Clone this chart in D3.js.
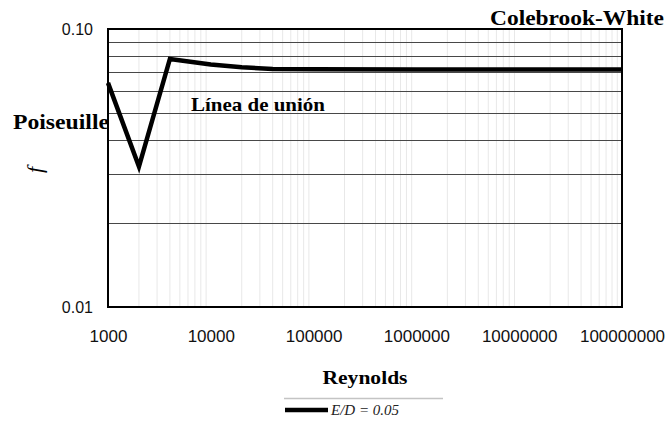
<!DOCTYPE html>
<html>
<head>
<meta charset="utf-8">
<script src="https://cdn.jsdelivr.net/npm/d3@7"></script>
<style>
  html, body { margin: 0; padding: 0; background: #fff; }
  svg { display: block; }
</style>
</head>
<body>
<svg id="chart" width="670" height="436"></svg>
<script>
// Friction factor vs Reynolds number for relative roughness E/D = 0.05
const reynolds = [1000, 2000, 4000, 10000, 20000, 40000, 100000, 1000000, 10000000, 100000000];
const friction = [0.064, 0.032, 0.078, 0.0745, 0.0728, 0.0718, 0.0716, 0.0715, 0.0715, 0.0715];
const xTicks = [1000, 10000, 100000, 1000000, 10000000, 100000000];
const yTicks = [0.01, 0.10];
const yGrid = [0.02, 0.03, 0.04, 0.05, 0.06, 0.07, 0.08, 0.09];
const seriesName = "E/D = 0.05";

const svg = d3.select("#chart");
const m = { left: 108, right: 622, top: 29, bottom: 307 };

const x = d3.scaleLog().domain([1000, 100000000]).range([m.left, m.right]);
const y = d3.scaleLog().domain([0.01, 0.1]).range([m.bottom, m.top]);

// faint vertical minor grid
const xMinor = [];
for (let e = 3; e < 8; e++) for (let k = 2; k <= 9; k++) xMinor.push(k * Math.pow(10, e));
svg.append("g").selectAll("line").data(xMinor).join("line")
  .attr("x1", d => x(d)).attr("x2", d => x(d))
  .attr("y1", m.top).attr("y2", m.bottom)
  .attr("stroke", "#e8e8e8").attr("stroke-width", 1);

// horizontal grid
svg.append("g").selectAll("line").data(yGrid).join("line")
  .attr("x1", m.left).attr("x2", m.right)
  .attr("y1", d => Math.round(y(d)) + 0.5).attr("y2", d => Math.round(y(d)) + 0.5)
  .attr("stroke", "#484848").attr("stroke-width", 1);

// plot frame
svg.append("rect")
  .attr("x", m.left).attr("y", m.top)
  .attr("width", m.right - m.left).attr("height", m.bottom - m.top)
  .attr("fill", "none").attr("stroke", "#000").attr("stroke-width", 2);

// axis tick labels
const xAxis = d3.axisBottom(x).tickValues(xTicks).tickFormat(d3.format("d")).tickSize(0).tickPadding(0);
const gx = svg.append("g").attr("transform", `translate(0,${m.bottom + 35})`).call(xAxis);
gx.select(".domain").remove();
gx.selectAll("text").attr("font-family", "'Liberation Sans', Arial, sans-serif")
  .attr("font-size", 17).attr("fill", "#111").attr("dy", 0);

const yAxis = d3.axisLeft(y).tickValues(yTicks).tickFormat(d3.format(".2f")).tickSize(0).tickPadding(15);
const gy = svg.append("g").attr("transform", `translate(${m.left},0)`).call(yAxis);
gy.select(".domain").remove();
gy.selectAll("text").attr("font-family", "'Liberation Sans', Arial, sans-serif")
  .attr("font-size", 16).attr("fill", "#111");

// series line
const line = d3.line().x(d => x(d[0])).y(d => y(d[1]));
svg.append("path")
  .datum(reynolds.map((r, i) => [r, friction[i]]))
  .attr("d", line)
  .attr("fill", "none").attr("stroke", "#000")
  .attr("stroke-width", 4.5).attr("stroke-linejoin", "miter");

// annotations
const serif = "'Liberation Serif', 'Times New Roman', serif";
svg.append("text").attr("x", 13).attr("y", 129)
  .attr("font-family", serif).attr("font-weight", "bold").attr("font-size", 21)
  .attr("textLength", 96).attr("lengthAdjust", "spacingAndGlyphs").text("Poiseuille");
svg.append("text").attr("x", 191).attr("y", 111)
  .attr("font-family", serif).attr("font-weight", "bold").attr("font-size", 19)
  .attr("textLength", 134).attr("lengthAdjust", "spacingAndGlyphs").text("Línea de unión");
svg.append("text").attr("x", 490).attr("y", 25)
  .attr("font-family", serif).attr("font-weight", "bold").attr("font-size", 20)
  .attr("textLength", 174).attr("lengthAdjust", "spacingAndGlyphs").text("Colebrook-White");

// axis titles
svg.append("text").attr("x", 365).attr("y", 384).attr("text-anchor", "middle")
  .attr("font-family", serif).attr("font-weight", "bold").attr("font-size", 19)
  .attr("textLength", 85).attr("lengthAdjust", "spacingAndGlyphs").text("Reynolds");
svg.append("text").attr("transform", "translate(42,170) rotate(-90)").attr("text-anchor", "middle")
  .attr("font-family", serif).attr("font-style", "italic").attr("font-size", 22).text("f");

// legend
svg.append("line").attr("x1", 284).attr("x2", 443).attr("y1", 398.5).attr("y2", 398.5)
  .attr("stroke", "#c4c4c4").attr("stroke-width", 1.5);
svg.append("line").attr("x1", 285).attr("x2", 328).attr("y1", 410).attr("y2", 410)
  .attr("stroke", "#000").attr("stroke-width", 4.5);
svg.append("text").attr("x", 331).attr("y", 415)
  .attr("font-family", serif).attr("font-style", "italic").attr("font-size", 15)
  .attr("fill", "#222").text(seriesName);
</script>
</body>
</html>
